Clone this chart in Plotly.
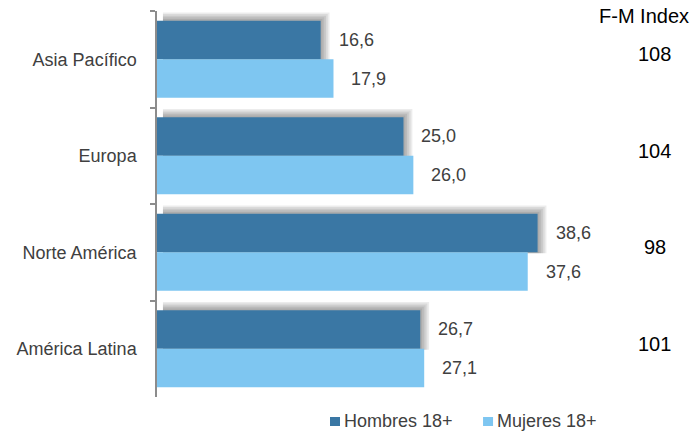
import plotly.graph_objects as go

regions = ["Asia Pacífico", "Europa", "Norte América", "América Latina"]
hombres = [16.6, 25.0, 38.6, 26.7]
mujeres = [17.9, 26.0, 37.6, 27.1]
fm_index = [108, 104, 98, 101]
series_names = ["Hombres 18+", "Mujeres 18+"]

DARK = "#3A77A4"
LIGHT = "#7EC6F1"
TXT = "#404040"
FONT = "Liberation Sans, Arial, sans-serif"

fig = go.Figure()

# soft shadow behind the dark bars
for k in range(1, 6):
    fig.add_trace(go.Bar(
        y=regions, x=[v + 0.18 * k - 0.6 for v in hombres], base=0.6,
        orientation="h", width=0.4 + 0.017 * k + 0.01, offset=-0.4 - 0.017 * k,
        marker=dict(color="rgba(0,0,0,0.075)", line=dict(width=0)),
        hoverinfo="skip", showlegend=False))

fig.add_trace(go.Bar(
    y=regions, x=hombres, orientation="h", name=series_names[0],
    width=0.4, offset=-0.4, marker=dict(color=DARK, line=dict(width=0)),
    showlegend=False))
fig.add_trace(go.Bar(
    y=regions, x=mujeres, orientation="h", name=series_names[1],
    width=0.4, offset=0.0, marker=dict(color=LIGHT, line=dict(width=0)),
    showlegend=False))

annotations = []
for r, h, m in zip(regions, hombres, mujeres):
    annotations.append(dict(x=h, y=r, yshift=19.5, xshift=16, xanchor="left", yanchor="middle",
                            text=f"{h:.1f}".replace(".", ","), showarrow=False,
                            font=dict(size=18, color=TXT, family=FONT)))
    annotations.append(dict(x=m, y=r, yshift=-19.5, xshift=16, xanchor="left", yanchor="middle",
                            text=f"{m:.1f}".replace(".", ","), showarrow=False,
                            font=dict(size=18, color=TXT, family=FONT)))

for r, fm in zip(regions, fm_index):
    annotations.append(dict(x=1.124, xref="paper", y=r, yshift=5, xanchor="center", yanchor="middle",
                            text=str(fm), showarrow=False,
                            font=dict(size=20, color="#000000", family=FONT)))

annotations.append(dict(x=1.1, xref="paper", y=1, yref="paper", yshift=-5,
                        xanchor="center", yanchor="middle", text="F-M Index", showarrow=False,
                        font=dict(size=20, color="#000000", family=FONT)))

# legend (custom)
shapes = []
leg_x = [0.3905, 0.736]
for lx, name, col in zip(leg_x, series_names, [DARK, LIGHT]):
    shapes.append(dict(type="rect", xref="paper", yref="paper", xsizemode="pixel", ysizemode="pixel",
                       xanchor=lx, yanchor=0, x0=0, x1=10, y0=-20, y1=-29,
                       fillcolor=col, line=dict(width=0)))
    annotations.append(dict(x=lx, xref="paper", xshift=12, y=0, yref="paper", yshift=-24,
                            xanchor="left", yanchor="middle", text=name, showarrow=False,
                            font=dict(size=18, color=TXT, family=FONT)))

fig.update_layout(
    width=691, height=432,
    margin=dict(l=157, r=91, t=11, b=35),
    plot_bgcolor="white", paper_bgcolor="white",
    barmode="overlay",
    showlegend=False,
    annotations=annotations,
    shapes=shapes,
    font=dict(family=FONT, color=TXT),
    xaxis=dict(range=[0, 44.93], visible=False, showgrid=False, zeroline=False, fixedrange=True),
    yaxis=dict(categoryorder="array", categoryarray=regions, range=[3.5, -0.5],
               showline=True, linecolor="#8C8C8C", linewidth=1.5,
               ticks="outside", tickson="boundaries", ticklen=5, tickcolor="#8C8C8C", tickwidth=1.5,
               ticklabelstandoff=15, tickfont=dict(size=18, color=TXT, family=FONT),
               showgrid=False, zeroline=False, fixedrange=True),
)

fig.write_html("out.html")
